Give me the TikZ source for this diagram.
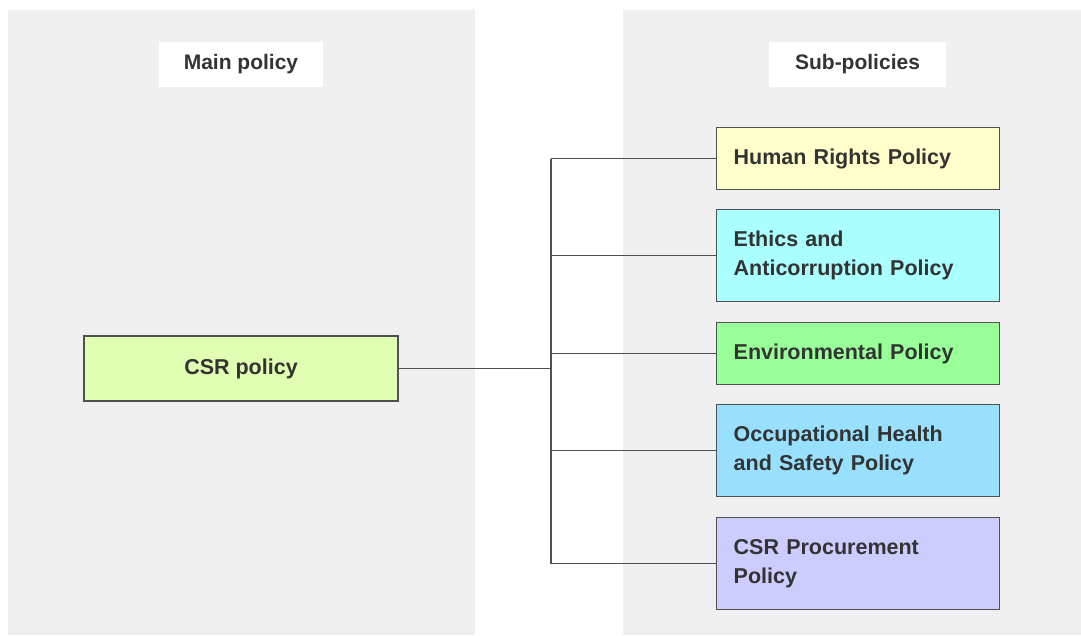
\documentclass[tikz,border=0pt]{standalone}
\usepackage{fontspec}
\setmainfont{Liberation Sans}
\begin{document}
\begin{tikzpicture}[x=1pt,y=-1pt,
  panel/.style={fill=panelgray, draw=none},
  header/.style={fill=white, draw=none, minimum height=45pt, inner sep=0pt, font=\bfseries\fontsize{21}{24}\selectfont, text=txt},
  pbox/.style={draw=edge, line width=1.4pt, anchor=north west, minimum width=283pt, inner xsep=17pt, inner ysep=0pt, text width=249pt, align=left, font=\bfseries\fontsize{21.5}{29}\selectfont, text=txt},
  link/.style={draw=edge, line width=1.2pt}
]
\definecolor{panelgray}{HTML}{F0F0F0}
\definecolor{edge}{HTML}{505050}
\definecolor{txt}{HTML}{333333}
\definecolor{cmain}{HTML}{E0FFB2}
\definecolor{chr}{HTML}{FFFFCC}
\definecolor{ceth}{HTML}{AAFFFF}
\definecolor{cenv}{HTML}{99FF99}
\definecolor{cocc}{HTML}{99E0FF}
\definecolor{cproc}{HTML}{CCCCFF}
\useasboundingbox (0,0) rectangle (1081,635);
\fill[white] (0,0) rectangle (1081,635);
\path[panel] (8,10) rectangle (475,635);
\path[panel] (623,10) rectangle (1081,635);
\node[header, minimum width=164pt] (hmain) at (241,64.5) {Main policy};
\node[header, minimum width=177pt] (hsub) at (857.5,64.5) {Sub-policies};
\node[draw=edge, line width=1.4pt, fill=cmain, minimum width=314pt, minimum height=65pt, inner sep=0pt, font=\bfseries\fontsize{21.5}{29}\selectfont, text=txt] (csr) at (241,368.5) {CSR policy};
\node[pbox, fill=chr, minimum height=62pt] (hr) at (716,127) {Human Rights Policy};
\node[pbox, fill=ceth, minimum height=92pt] (eth) at (716,209) {Ethics and\\Anticorruption Policy};
\node[pbox, fill=cenv, minimum height=62pt] (env) at (716,322) {Environmental Policy};
\node[pbox, fill=cocc, minimum height=92pt] (occ) at (716,404) {Occupational Health\\and Safety Policy};
\node[pbox, fill=cproc, minimum height=92pt] (proc) at (716,517) {CSR Procurement\\Policy};
\coordinate (bus) at (551,368.5);
\draw[link] (csr.east) -- (csr.east -| bus);
\draw[link] (hr.west -| bus) -- (proc.west -| bus);
\draw[link] (hr.west -| bus) -- (hr.west);
\draw[link] (eth.west -| bus) -- (eth.west);
\draw[link] (env.west -| bus) -- (env.west);
\draw[link] (occ.west -| bus) -- (occ.west);
\draw[link] (proc.west -| bus) -- (proc.west);
\end{tikzpicture}
\end{document}
